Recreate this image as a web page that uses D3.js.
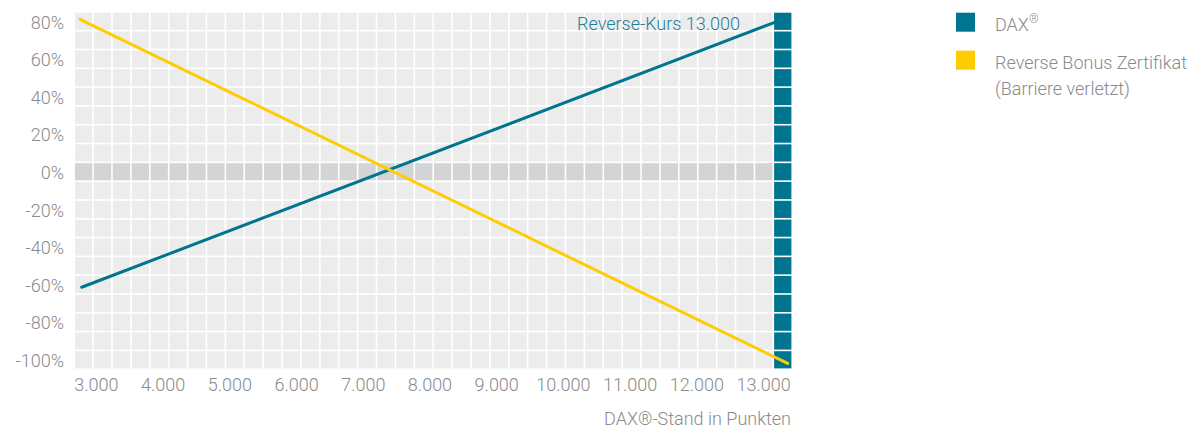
<!DOCTYPE html>
<html>
<head>
<meta charset="utf-8">
<script src="https://cdn.jsdelivr.net/npm/d3@7"></script>
<style>
  body { margin: 0; background: #fff; }
  svg text { font-family: Roboto, "Open Sans", sans-serif; font-weight: 300; }
</style>
</head>
<body>
<div id="chart"></div>
<script>
// data
const xTicks = [3000, 4000, 5000, 6000, 7000, 8000, 9000, 10000, 11000, 12000, 13000];
const yTicks = [80, 60, 40, 20, 0, -20, -40, -60, -80, -100];
const daxLine = [{x: 2780, y: -61}, {x: 13175, y: 80}];
const certLine = [{x: 2755, y: 81.5}, {x: 13360, y: -101.5}];
const legendItems = [
  {label: ["DAX"], sup: "®", color: "#00758f"},
  {label: ["Reverse Bonus Zertifikat", "(Barriere verletzt)"], sup: "", color: "#ffcc00"}
];
const annotation = "Reverse-Kurs 13.000";
const xTitle = "DAX®-Stand in Punkten";

const W = 1201, H = 432;
const plot = {left: 75, right: 793, top: 12.7, bottom: 370};
const nCols = 38;

const x = d3.scaleLinear().domain([2680, 13440]).range([plot.left, plot.right]);
const y = d3.scaleLinear().domain([-105, 85]).range([plot.bottom, plot.top]);

const svg = d3.select('#chart').append('svg')
  .attr('width', W).attr('height', H);

// grid of square cells, last column is the blue "reverse" zone
const colW = (plot.right - plot.left) / nCols;
const rows = d3.range(-105, 85, 10);
const cells = [];
rows.forEach(r => {
  for (let c = 0; c < nCols; c++) cells.push({r, c});
});
const gap = 1.6;
svg.append('g').selectAll('rect')
  .data(cells)
  .join('rect')
  .attr('x', d => plot.left + d.c * colW)
  .attr('y', d => y(d.r + 10))
  .attr('width', colW - gap)
  .attr('height', y(0) - y(10) - gap)
  .attr('fill', d => d.c === nCols - 1 ? '#00758f' : (d.r === -5 ? '#d3d4d6' : '#ececec'));

// y axis labels
svg.append('g').selectAll('text')
  .data(yTicks)
  .join('text')
  .attr('x', 64)
  .attr('y', d => y(d))
  .attr('dy', '0.36em')
  .attr('text-anchor', 'end')
  .attr('fill', '#8a8a8a')
  .attr('font-size', 18)
  .text(d => d + '%');

// x axis labels
svg.append('g').selectAll('text')
  .data(xTicks)
  .join('text')
  .attr('x', d => x(d))
  .attr('y', 385)
  .attr('dy', '0.36em')
  .attr('text-anchor', 'middle')
  .attr('fill', '#8a8a8a')
  .attr('font-size', 18)
  .text(d => d3.format(',')(d).replace(',', '.'));

svg.append('text')
  .attr('x', 791).attr('y', 425)
  .attr('text-anchor', 'end')
  .attr('fill', '#8a8a8a')
  .attr('font-size', 18)
  .text(xTitle);

// lines
const line = d3.line().x(d => x(d.x)).y(d => y(d.y));
svg.append('path').datum(daxLine)
  .attr('d', line).attr('fill', 'none')
  .attr('stroke', '#00758f').attr('stroke-width', 3).attr('stroke-linecap', 'round');
svg.append('path').datum(certLine)
  .attr('d', line).attr('fill', 'none')
  .attr('stroke', '#ffcc00').attr('stroke-width', 3).attr('stroke-linecap', 'round');

// annotation
svg.append('text')
  .attr('x', 740).attr('y', 30)
  .attr('text-anchor', 'end')
  .attr('fill', '#1f7f99')
  .attr('font-size', 18)
  .text(annotation);

// legend
const lg = svg.append('g').selectAll('g')
  .data(legendItems)
  .join('g')
  .attr('transform', (d, i) => `translate(956,${12.7 + i * 38})`);
lg.append('rect').attr('width', 19).attr('height', 19).attr('fill', d => d.color);
const lt = lg.append('text')
  .attr('x', 39).attr('y', 18)
  .attr('fill', '#8a8a8a')
  .attr('font-size', 18);
lt.selectAll('tspan.l')
  .data(d => d.label)
  .join('tspan')
  .attr('class', 'l')
  .attr('x', 39)
  .attr('dy', (d, i) => i === 0 ? 0 : 26)
  .text(d => d);
lt.filter(d => d.sup).append('tspan')
  .attr('dy', -8)
  .attr('font-size', 12)
  .text(d => d.sup);
</script>
</body>
</html>
